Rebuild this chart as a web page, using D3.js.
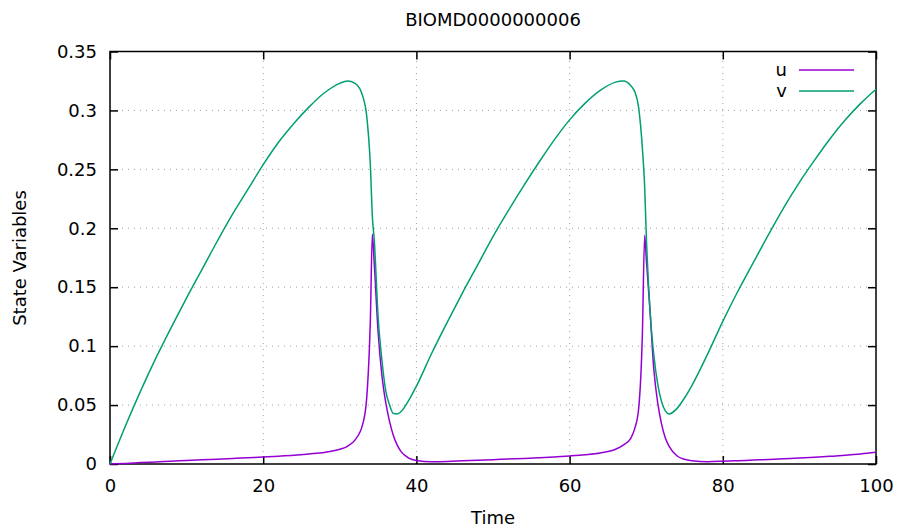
<!DOCTYPE html>
<html>
<head>
<meta charset="utf-8">
<script src="https://cdn.jsdelivr.net/npm/d3@7"></script>
<style>
  body { margin: 0; background: #fff; }
  svg text { font-family: "DejaVu Sans", sans-serif; font-size: 18px; fill: #000; }
</style>
</head>
<body>
<svg id="chart" width="899" height="528"></svg>
<script>
// data
var title = "BIOMD0000000006";
var time = [0,2,4,6,8,10,12,14,16,18,20,22,24,26,28,30,31,32,33,33.5,34,34.25,34.5,35,35.5,36,36.5,37,37.5,38,39,40,42,44,46,48,50,52,54,56,58,60,62,64,66,67,68,68.5,69,69.5,69.8,70,70.5,71,71.5,72,72.5,73,74,75,76,78,80,82,84,86,88,90,92,94,96,98,100];
var u = [0,0.0005,0.0012,0.0018,0.0024,0.003,0.0036,0.0041,0.0047,0.0053,0.0059,0.0066,0.0074,0.0085,0.0098,0.0125,0.015,0.0205,0.034,0.055,0.125,0.195,0.17,0.112,0.075,0.052,0.036,0.024,0.016,0.0105,0.005,0.003,0.002,0.0022,0.0027,0.0032,0.0037,0.0042,0.0047,0.0053,0.006,0.0068,0.0078,0.0093,0.0125,0.016,0.022,0.03,0.046,0.11,0.194,0.175,0.13,0.08,0.052,0.034,0.022,0.015,0.007,0.004,0.0028,0.002,0.0023,0.0028,0.0033,0.0038,0.0044,0.005,0.0057,0.0065,0.0074,0.0085,0.0099];
var v = [0,0.032,0.062,0.09,0.116,0.141,0.165,0.189,0.212,0.233,0.254,0.273,0.289,0.303,0.315,0.323,0.325,0.323,0.312,0.296,0.252,0.21,0.19,0.125,0.088,0.062,0.05,0.0428,0.0425,0.0445,0.054,0.066,0.094,0.12,0.145,0.169,0.193,0.215,0.236,0.256,0.275,0.292,0.306,0.317,0.324,0.325,0.321,0.316,0.303,0.268,0.235,0.196,0.13,0.092,0.068,0.053,0.045,0.0425,0.047,0.056,0.067,0.093,0.121,0.147,0.171,0.195,0.218,0.239,0.258,0.276,0.292,0.306,0.318];
var xTicks = [0, 20, 40, 60, 80, 100];
var yTicks = [0, 0.05, 0.1, 0.15, 0.2, 0.25, 0.3, 0.35];
var yTickLabels = ["0", "0.05", "0.1", "0.15", "0.2", "0.25", "0.3", "0.35"];
var seriesNames = ["u", "v"];
var seriesColors = ["#9400d3", "#009e73"];

var svg = d3.select("#chart");
var plotLeft = 110, plotRight = 876, plotTop = 51.5, plotBottom = 464;

var x = d3.scaleLinear().domain([0, 100]).range([plotLeft, plotRight]);
var y = d3.scaleLinear().domain([0, 0.35]).range([plotBottom, plotTop]);

// grid
var grid = svg.append("g").attr("stroke", "#a0a0a0").attr("stroke-width", 1).attr("stroke-dasharray", "1,5");
xTicks.slice(1, -1).forEach(function(t) {
  grid.append("line").attr("x1", x(t)).attr("x2", x(t)).attr("y1", plotBottom).attr("y2", plotTop);
});
yTicks.slice(1, -1).forEach(function(t) {
  grid.append("line").attr("x1", plotLeft).attr("x2", plotRight).attr("y1", y(t)).attr("y2", y(t));
});

// axes, ticks pointing inward, mirrored on top and right
var tickLen = 8;
svg.append("g").attr("transform", "translate(0," + plotBottom + ")")
  .call(d3.axisBottom(x).tickValues(xTicks).tickSizeInner(-tickLen).tickSizeOuter(0).tickPadding(15).tickFormat(d3.format("d")));
svg.append("g").attr("transform", "translate(0," + plotTop + ")")
  .call(d3.axisTop(x).tickValues(xTicks).tickSizeInner(-tickLen).tickSizeOuter(0).tickFormat(""));
svg.append("g").attr("transform", "translate(" + plotLeft + ",0)")
  .call(d3.axisLeft(y).tickValues(yTicks).tickSizeInner(-tickLen).tickSizeOuter(0).tickPadding(13)
    .tickFormat(function(d, i) { return yTickLabels[i]; }));
svg.append("g").attr("transform", "translate(" + plotRight + ",0)")
  .call(d3.axisRight(y).tickValues(yTicks).tickSizeInner(-tickLen).tickSizeOuter(0).tickFormat(""));
svg.selectAll(".domain").remove();
svg.selectAll(".tick line").attr("stroke", "#000").attr("stroke-width", 1.5);
svg.selectAll(".tick text").style("font-size", "18px").style("font-family", "DejaVu Sans, sans-serif");

// frame
svg.append("rect").attr("x", plotLeft).attr("y", plotTop).attr("width", plotRight - plotLeft).attr("height", plotBottom - plotTop)
  .attr("fill", "none").attr("stroke", "#000").attr("stroke-width", 1.5);

// lines
var series = [u, v];
series.forEach(function(vals, k) {
  var line = d3.line()
    .x(function(d, i) { return x(time[i]); })
    .y(function(d) { return y(d); })
    .curve(d3.curveMonotoneX);
  svg.append("path").datum(vals).attr("fill", "none").attr("stroke", seriesColors[k])
    .attr("stroke-width", 1.5).attr("d", line);
});

// legend
seriesNames.forEach(function(name, k) {
  var ly = 71 + k * 21;
  svg.append("text").attr("x", 787).attr("y", ly).attr("text-anchor", "end").attr("dominant-baseline", "middle").text(name);
  svg.append("line").attr("x1", 799).attr("x2", 854).attr("y1", ly - 1).attr("y2", ly - 1)
    .attr("stroke", seriesColors[k]).attr("stroke-width", 1.5);
});

// titles
svg.append("text").attr("x", 493).attr("y", 26).attr("text-anchor", "middle").text(title);
svg.append("text").attr("x", 493).attr("y", 524).attr("text-anchor", "middle").text("Time");
svg.append("text").attr("transform", "translate(26,258) rotate(-90)").attr("text-anchor", "middle").text("State Variables");
</script>
</body>
</html>
